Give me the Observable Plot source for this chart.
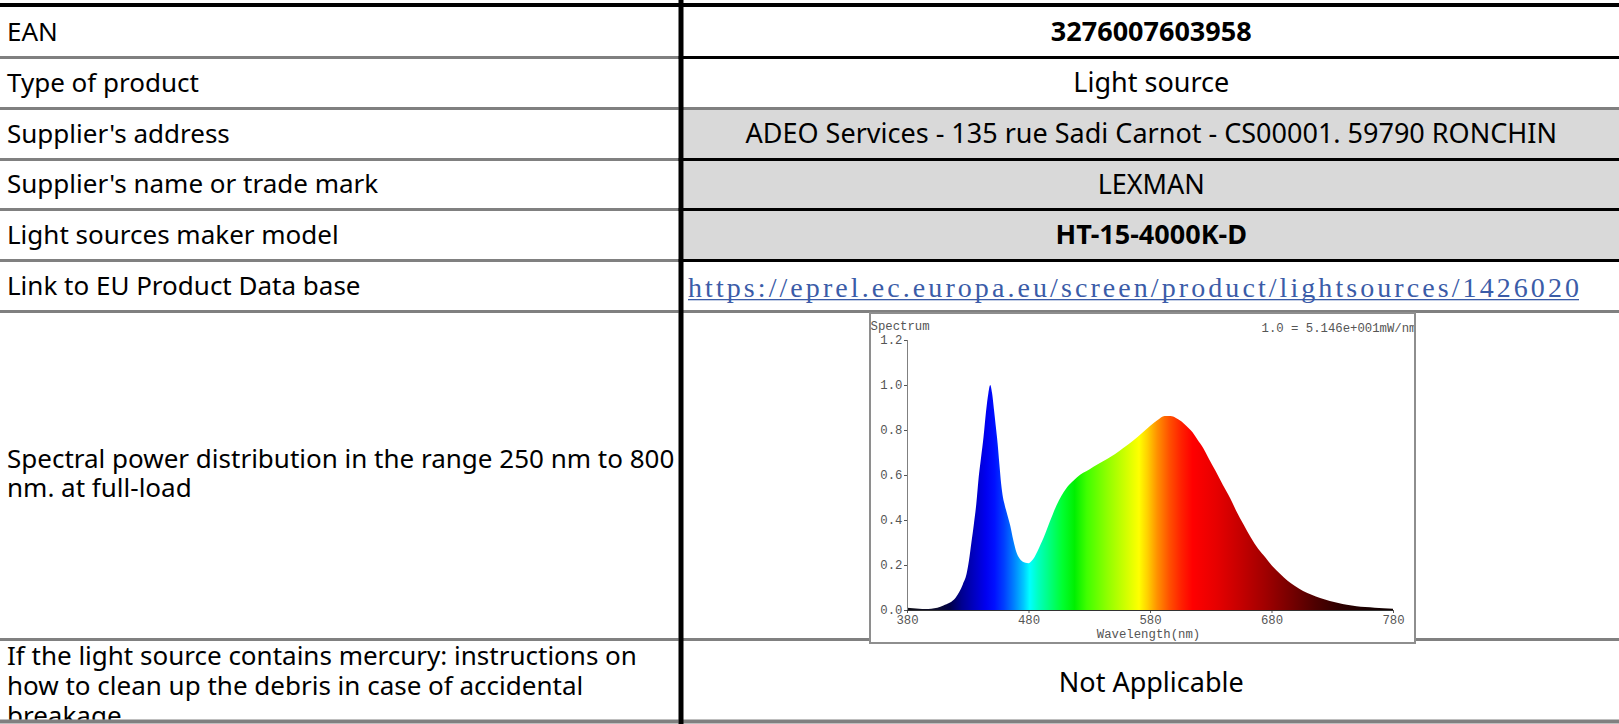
<!DOCTYPE html>
<html>
<head>
<meta charset="utf-8">
<script src="https://cdn.jsdelivr.net/npm/d3@7"></script>
<script src="https://cdn.jsdelivr.net/npm/@observablehq/plot@0.6"></script>
<style>
  html, body { margin: 0; padding: 0; background: #fff; }
  body { width: 1619px; height: 724px; overflow: hidden; position: relative; }
  #table { position: absolute; left: 0; top: 0; }
  #chartbox { position: absolute; left: 869px; top: 312px; width: 543px; height: 328px;
              border: 2px solid #8e8e8e; background: #fff; overflow: hidden; }
  #chartbox svg { display: block; }
</style>
</head>
<body>
<div id="table"></div>
<div id="chartbox"></div>
<script>
// ---------------- data ----------------
const rowLabels = [
  "EAN",
  "Type of product",
  "Supplier's address",
  "Supplier's name or trade mark",
  "Light sources maker model",
  "Link to EU Product Data base",
  "Spectral power distribution in the range 250 nm to 800\nnm. at full-load",
  "If the light source contains mercury: instructions on\nhow to clean up the debris in case of accidental\nbreakage"
];
const rowValues = [
  "3276007603958",
  "Light source",
  "ADEO Services - 135 rue Sadi Carnot - CS00001. 59790 RONCHIN",
  "LEXMAN",
  "HT-15-4000K-D",
  "https://eprel.ec.europa.eu/screen/product/lightsources/1426020",
  "",
  "Not Applicable"
];
const chartTitle = "Spectrum";
const chartNote = "1.0 = 5.146e+001mW/nm";
const xLabel = "Wavelength(nm)";
const xTicks = [380, 480, 580, 680, 780];
const yTicks = [0, 0.2, 0.4, 0.6, 0.8, 1.0, 1.2];

const wavelength = [380,385,390,395,400,405,410,415,420,423,426,429,431,433,435,437,439,441,443,445,447,448.5,450,451.5,453,454.5,456,457.5,459,460.5,462.5,465,467.5,470,472.5,475,477.5,480,482.5,485,487.5,490,492.5,495,497.5,500,503,507,511,516,520,525,530,537,545,551,558,566,573,580,586,592,597,601,606,610,615,619,624,628,634,640,646,651,657,663,669,675,681,687,693,699,706,713,720,728,735,742,750,757,765,772,780];
const intensity  = [0.010,0.008,0.006,0.005,0.006,0.010,0.020,0.032,0.055,0.080,0.115,0.160,0.220,0.300,0.380,0.470,0.590,0.680,0.770,0.880,0.965,1.000,0.965,0.895,0.820,0.745,0.650,0.560,0.500,0.465,0.425,0.375,0.310,0.258,0.230,0.216,0.210,0.208,0.218,0.236,0.262,0.292,0.322,0.357,0.392,0.426,0.465,0.507,0.540,0.570,0.590,0.610,0.625,0.648,0.672,0.692,0.720,0.752,0.785,0.818,0.843,0.862,0.862,0.855,0.838,0.818,0.790,0.758,0.718,0.677,0.618,0.556,0.497,0.440,0.380,0.322,0.272,0.233,0.193,0.161,0.131,0.108,0.085,0.068,0.053,0.040,0.031,0.023,0.017,0.013,0.010,0.008,0.006];

const stopWavelength = [380,405,415,425,435,445,452,460,468,476,481,488,497,508,518,528,545,560,571,578,586,596,606,615,635,655,675,695,715,735,760,780];
const stopColor = ["#101018","#0c0c30","#000048","#000090","#0000c0","#0000f0","#0010ff","#0040ff","#0080ff","#00c8ff","#00ffff","#00ffc0","#00ff80","#00ff30","#00f000","#40ff00","#90ff00","#d0ff00","#ffff00","#ffd000","#ff9000","#ff5000","#ff2000","#ff0000","#e60000","#c40000","#a00000","#780000","#500000","#300000","#180000","#100000"];

// ---------------- table layout ----------------
const W = 1619, H = 724;
const divX = 678.5, divW = 5;
const lineY = [56, 107, 158, 208, 259, 310, 638, 719.5];
const lineH = [3, 3, 3, 3, 3, 3, 3, 4];
const rightLineBlack = [true, false, true, true, true, false, false, false];
const grey = "#808080";
const labelBaselines = [[41], [91.7], [142.7], [193.3], [244.3], [295.3], [468, 497], [665, 695, 725]];
const valueBaselines = [40.7, 91.7, 142.7, 194, 244.3, 296.7, null, 691.7];
const boldValues = [true, false, false, false, true, false, false, false];

const svg = d3.select("#table").append("svg")
  .attr("width", W).attr("height", H)
  .attr("viewBox", `0 0 ${W} ${H}`)
  .style("font-family", "'Noto Sans', sans-serif");

// grey background for supplier rows (right column)
svg.append("rect").attr("x", divX + divW).attr("y", lineY[1] + lineH[1])
  .attr("width", W - divX - divW).attr("height", lineY[4] - lineY[1] - lineH[1])
  .attr("fill", "#d9d9d9");

// top black rule
svg.append("rect").attr("x", 0).attr("y", 3).attr("width", W).attr("height", 4).attr("fill", "#000");

lineY.forEach((y, i) => {
  svg.append("rect").attr("x", 0).attr("y", y).attr("width", divX).attr("height", lineH[i]).attr("fill", grey);
  svg.append("rect").attr("x", divX).attr("y", y).attr("width", W - divX).attr("height", lineH[i])
    .attr("fill", rightLineBlack[i] ? "#000" : grey);
});

// clip for last row
svg.append("clipPath").attr("id", "lastrow").append("rect")
  .attr("x", 0).attr("y", lineY[6] + lineH[6]).attr("width", divX).attr("height", lineY[7] - lineY[6] - lineH[6]);

// labels (multi-line labels as one text with tspans)
rowLabels.forEach((lab, i) => {
  const lines = lab.split("\n");
  const t = svg.append("text").attr("font-size", 26).attr("fill", "#000");
  if (i === 7) t.attr("clip-path", "url(#lastrow)");
  lines.forEach((ln, j) => {
    t.append("tspan").attr("x", 7).attr("y", labelBaselines[i][j]).text(ln);
  });
});

// values
const rightCenter = (divX + divW + W) / 2;
rowValues.forEach((v, i) => {
  if (!v) return;
  if (i === 5) {
    svg.append("text").attr("x", 688).attr("y", valueBaselines[i])
      .attr("font-family", "'Liberation Serif', serif").attr("font-size", 28)
      .attr("fill", "#3b5ca8").attr("textLength", 891).attr("lengthAdjust", "spacing").text(v);
    svg.append("rect").attr("x", 688).attr("y", 299).attr("width", 891).attr("height", 1.3).attr("fill", "#3b5ca8");
    return;
  }
  svg.append("text").attr("x", rightCenter).attr("y", valueBaselines[i])
    .attr("text-anchor", "middle").attr("font-size", 27)
    .attr("font-weight", boldValues[i] ? "bold" : "normal").attr("fill", "#000").text(v);
});

// divider
svg.append("rect").attr("x", divX).attr("y", 0).attr("width", divW).attr("height", H).attr("fill", "#000");

// ---------------- chart ----------------
const spectrum = wavelength.map((w, i) => ({w, v: intensity[i]}));
const stops = stopWavelength.map((w, i) => ({w, c: stopColor[i]}));

const gradientDefs = () => {
  const defs = d3.create("svg:defs");
  const lg = defs.append("linearGradient").attr("id", "spec-grad")
    .attr("x1", "0").attr("x2", "1").attr("y1", "0").attr("y2", "0");
  const w0 = d3.min(wavelength), w1 = d3.max(wavelength);
  stops.forEach(s => lg.append("stop").attr("offset", (s.w - w0) / (w1 - w0)).attr("stop-color", s.c));
  return defs.node();
};

const chart = Plot.plot({
  width: 543,
  height: 328,
  marginLeft: 36,
  marginRight: 21,
  marginTop: 26,
  marginBottom: 32,
  style: {fontFamily: "'Liberation Mono', monospace", fontSize: "12.3px", color: "#555", background: "#fff", overflow: "visible"},
  x: {domain: [380, 780], ticks: xTicks, tickSize: 3, tickPadding: 2, label: null},
  y: {domain: [0, 1.2], ticks: yTicks, tickSize: 3, tickPadding: 2, tickFormat: d3.format(".1f"), label: null},
  marks: [
    gradientDefs,
    Plot.areaY(spectrum, {x: "w", y: "v", fill: "url(#spec-grad)", curve: "monotone-x"}),
    Plot.ruleX([380], {y1: 0, y2: 1.2, stroke: "#808080", strokeWidth: 1}),
    Plot.ruleY([0], {x1: 380, x2: 780, stroke: "#333", strokeWidth: 1.2}),
    Plot.text([xLabel], {text: d => d, frameAnchor: "bottom", lineAnchor: "middle", dx: -2, dy: 24, fill: "#555"}),
    Plot.text([chartTitle], {text: d => d, frameAnchor: "top-left", textAnchor: "start", lineAnchor: "middle", dx: -37, dy: -14, fill: "#555"}),
    Plot.text([chartNote], {text: d => d, frameAnchor: "top-right", textAnchor: "end", lineAnchor: "middle", dx: 23, dy: -12, fill: "#555"})
  ]
});
document.getElementById("chartbox").appendChild(chart);
</script>
</body>
</html>
